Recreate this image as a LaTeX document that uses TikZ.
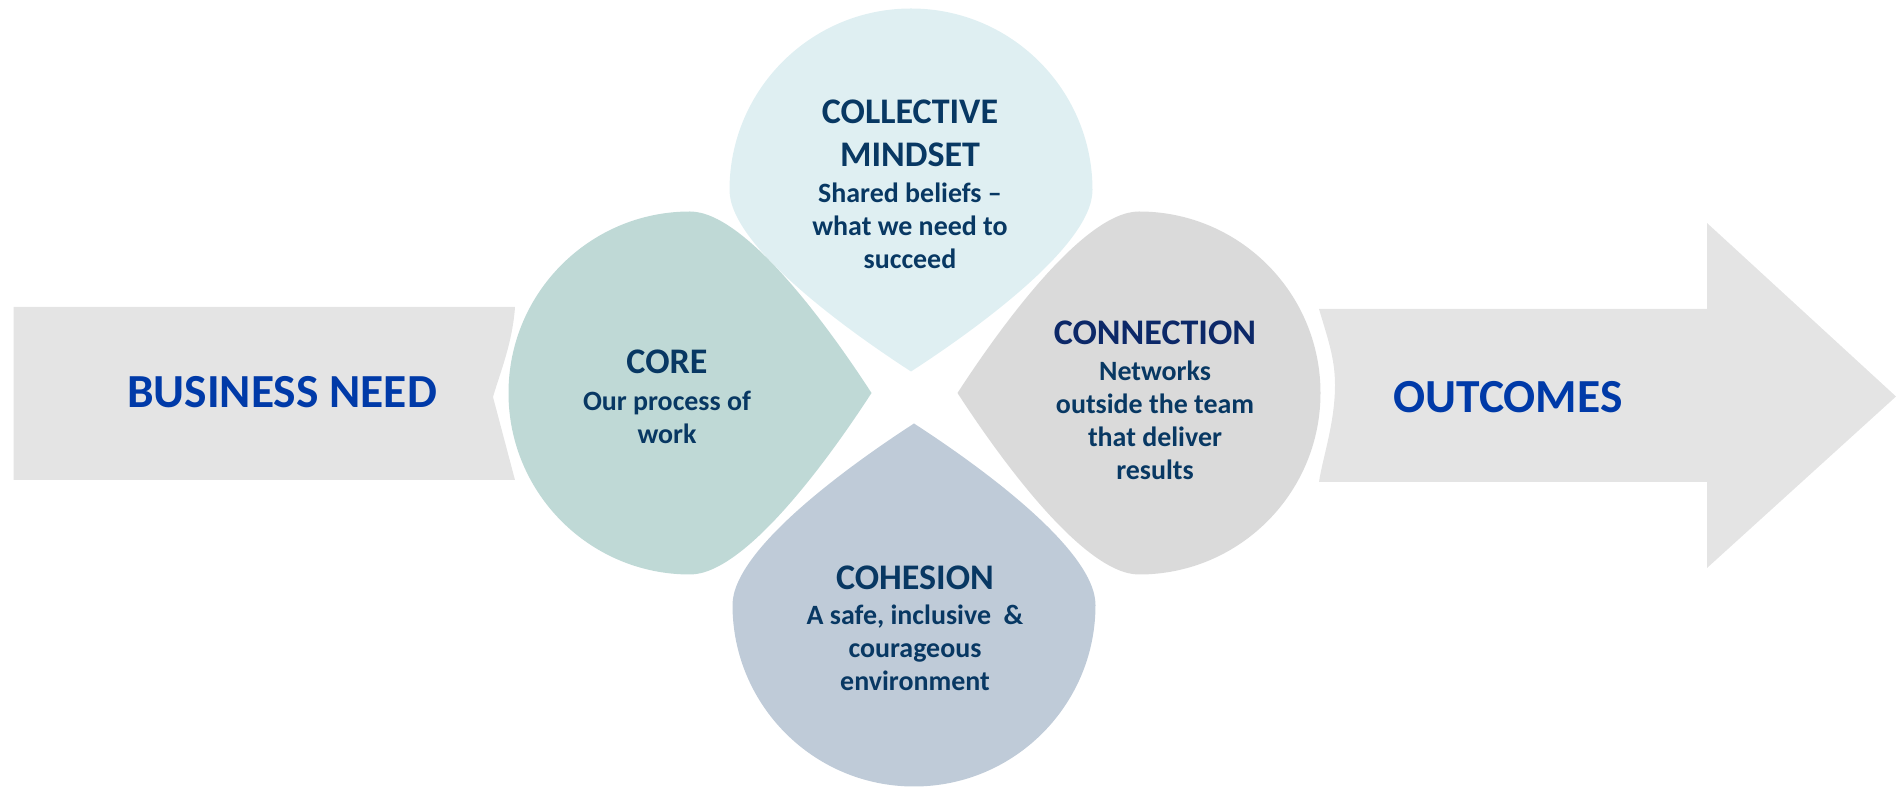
\documentclass[tikz,border=0pt]{standalone}
\usepackage{fontspec}
\setmainfont{Carlito}

\definecolor{arrowgrey}{RGB}{228,228,228}
\definecolor{core}{RGB}{191,217,214}
\definecolor{mindset}{RGB}{223,239,242}
\definecolor{cohesion}{RGB}{191,203,216}
\definecolor{connect}{RGB}{218,218,218}
\definecolor{navy}{RGB}{8,56,99}
\definecolor{deepnavy}{RGB}{12,40,104}
\definecolor{brightblue}{RGB}{0,58,168}

\newcommand{\headfont}{\fontsize{20.5}{24}\selectfont}

\tikzset{
    drop text/.style={align=center, text=navy,
        font=\fontsize{15.9}{18.8}\selectfont\bfseries},
    arrow text/.style={text=brightblue,
        font=\fontsize{27}{32}\selectfont\bfseries}
}

\begin{document}
\begin{tikzpicture}
        \useasboundingbox (0, 0) rectangle (37.92, 15.76);

        % Left arrow, notched where the first drop sits
        \fill[arrowgrey] (0.27, 9.62) -- (10.3, 9.62)
            .. controls (10.25, 8.9) and (10.0, 8.3) .. (9.86, 7.82)
            -- (10.3, 6.16) -- (0.27, 6.16) -- cycle;

        % Right arrow, its tail bulging into the last drop
        \fill[arrowgrey] (26.38, 9.58) -- (34.14, 9.58) -- (34.14, 11.3)
            -- (37.92, 7.83) -- (34.14, 4.4) -- (34.14, 6.12) -- (26.38, 6.12)
            .. controls (26.45, 6.6) and (26.7, 7.3) .. (26.7, 8.06)
            .. controls (26.7, 8.6) and (26.55, 9.0) .. (26.38, 9.58) -- cycle;

        % The four drops, every tip pointing to the middle
        \foreach \cx/\cy/\ang/\col in {
            18.22/11.96/-90/mindset, 22.78/7.9/180/connect,
            18.28/3.66/90/cohesion, 13.8/7.9/0/core}
        \fill[fill=\col, shift={(\cx, \cy)}, rotate=\ang, scale=3.63]
            (1, 0) .. controls (0.755, 0.378) and (0.3, 1) .. (0, 1)
            arc (90:270:1)
            .. controls (0.3, -1) and (0.755, -0.378) .. (1, 0) -- cycle;

        % Text of the drops
        \node[drop text] (mindset) at (18.2, 12.08)
            {{\headfont COLLECTIVE}\\[0.2cm]{\headfont MINDSET}\\[0.06cm]
             Shared beliefs --\\what we need to\\succeed};
        \node[drop text] (core) at (13.34, 7.82)
            {{\headfont CORE}\\[0.08cm]Our process of\\work};
        \node[drop text] (cohesion) at (18.3, 3.19)
            {{\headfont COHESION}\\[0.04cm]A safe, inclusive \ \&\\courageous\\environment};
        \node[drop text] (connection) at (23.1, 7.76)
            {{\headfont\color{deepnavy}CONNECTION}\\[0.06cm]Networks\\outside the team\\that deliver\\results};

        % Text of the arrows
        \node[arrow text] (need) at (5.64, 7.92) {BUSINESS NEED};
        \node[arrow text] (outcomes) at (30.16, 7.82) {OUTCOMES};
\end{tikzpicture}
\end{document}
